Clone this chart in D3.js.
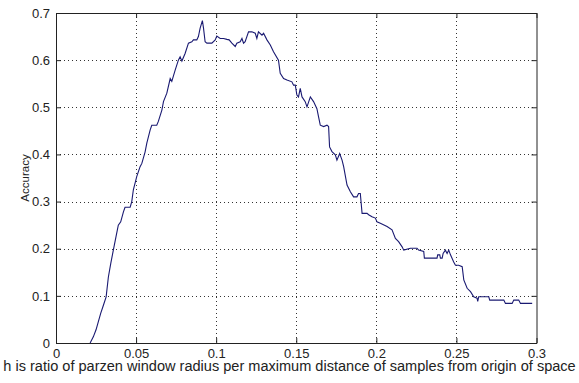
<!DOCTYPE html>
<html>
<head>
<meta charset="utf-8">
<script src="https://cdn.jsdelivr.net/npm/d3@7"></script>
<style>
  html, body { margin: 0; padding: 0; background: #fff; }
  svg { display: block; font-family: "Liberation Sans", Arial, sans-serif; }
</style>
</head>
<body>
<svg id="chart" width="579" height="383"></svg>
<script>
// ---- data ----
const xTicks = [0, 0.05, 0.1, 0.15, 0.2, 0.25, 0.3];
const xTickLabels = ["0", "0.05", "0.1", "0.15", "0.2", "0.25", "0.3"];
const yTicks = [0, 0.1, 0.2, 0.3, 0.4, 0.5, 0.6, 0.7];
const yTickLabels = ["0", "0.1", "0.2", "0.3", "0.4", "0.5", "0.6", "0.7"];
const xLabel = "h is ratio of parzen window radius per maximum distance of samples from origin of space";
const yLabel = "Accuracy";

const hValues = [
  0.0213, 0.0233, 0.0250, 0.0264, 0.0279, 0.0296, 0.0313, 0.0327, 0.0342, 0.0358,
  0.0375, 0.0389, 0.0404, 0.0421, 0.0431, 0.0463, 0.0473, 0.0483, 0.0504, 0.0525,
  0.0536, 0.0556, 0.0567, 0.0588, 0.0598, 0.0629, 0.0639, 0.0661, 0.0671, 0.0692,
  0.0713, 0.0723, 0.0744, 0.0764, 0.0775, 0.0786, 0.0806, 0.0827, 0.0848, 0.0858,
  0.0879, 0.0889, 0.0900, 0.0914, 0.0921, 0.0931, 0.0942, 0.0973, 0.0994, 0.1004,
  0.1025, 0.1046, 0.1067, 0.1081, 0.1098, 0.1119, 0.1129, 0.1150, 0.1161, 0.1171,
  0.1181, 0.1202, 0.1223, 0.1244, 0.1254, 0.1264, 0.1286, 0.1296, 0.1317, 0.1338,
  0.1358, 0.1389, 0.1400, 0.1421, 0.1442, 0.1473, 0.1483, 0.1494, 0.1504, 0.1514,
  0.1525, 0.1536, 0.1556, 0.1567, 0.1588, 0.1608, 0.1629, 0.1639, 0.1650, 0.1671,
  0.1692, 0.1702, 0.1708, 0.1723, 0.1744, 0.1754, 0.1771, 0.1786, 0.1796, 0.1817,
  0.1838, 0.1858, 0.1879, 0.1889, 0.1900, 0.1911, 0.1942, 0.1952, 0.1973, 0.1994,
  0.2004, 0.2025, 0.2067, 0.2098, 0.2119, 0.2139, 0.2161, 0.2171, 0.2213, 0.2254,
  0.2264, 0.2296, 0.2300, 0.2379, 0.2383, 0.2396, 0.2400, 0.2411, 0.2417, 0.2431,
  0.2442, 0.2452, 0.2463, 0.2483, 0.2494, 0.2514, 0.2536, 0.2546, 0.2567, 0.2588,
  0.2608, 0.2629, 0.2633, 0.2639, 0.2702, 0.2708, 0.2796, 0.2806, 0.2848, 0.2858,
  0.2889, 0.2900, 0.2973
];
const accuracy = [
  0.000, 0.013, 0.028, 0.045, 0.063, 0.080, 0.098, 0.140, 0.169, 0.197,
  0.226, 0.250, 0.257, 0.278, 0.288, 0.288, 0.300, 0.325, 0.353, 0.374,
  0.381, 0.405, 0.424, 0.452, 0.462, 0.462, 0.470, 0.494, 0.512, 0.530,
  0.561, 0.555, 0.579, 0.600, 0.607, 0.598, 0.614, 0.636, 0.639, 0.643,
  0.643, 0.650, 0.668, 0.684, 0.668, 0.639, 0.636, 0.636, 0.643, 0.651,
  0.646, 0.646, 0.644, 0.643, 0.636, 0.629, 0.636, 0.639, 0.646, 0.636,
  0.639, 0.660, 0.660, 0.657, 0.646, 0.660, 0.653, 0.657, 0.643, 0.632,
  0.618, 0.600, 0.572, 0.561, 0.558, 0.554, 0.547, 0.547, 0.526, 0.522,
  0.540, 0.522, 0.512, 0.501, 0.522, 0.512, 0.497, 0.480, 0.462, 0.459,
  0.462, 0.459, 0.416, 0.406, 0.399, 0.388, 0.402, 0.388, 0.374, 0.335,
  0.321, 0.310, 0.310, 0.317, 0.317, 0.275, 0.275, 0.272, 0.268, 0.265,
  0.257, 0.254, 0.247, 0.240, 0.222, 0.215, 0.204, 0.197, 0.201, 0.201,
  0.197, 0.194, 0.180, 0.180, 0.187, 0.187, 0.180, 0.180, 0.190, 0.197,
  0.190, 0.197, 0.187, 0.172, 0.165, 0.165, 0.162, 0.134, 0.116, 0.109,
  0.098, 0.095, 0.088, 0.098, 0.098, 0.091, 0.091, 0.084, 0.084, 0.091,
  0.091, 0.084, 0.084
];

// ---- layout ----
const svg = d3.select("#chart");
const mLeft = 56, mRight = 536.5, mTop = 13, mBottom = 343;
const x = d3.scaleLinear().domain([0, 0.3]).range([mLeft, mRight]);
const y = d3.scaleLinear().domain([0, 0.7]).range([mBottom, mTop]);

// grid lines (dotted)
const grid = svg.append("g").attr("stroke", "#333").attr("stroke-width", 1)
  .attr("stroke-dasharray", "1,3");
grid.selectAll("line.gx").data(xTicks.slice(1, -1)).join("line")
  .attr("x1", d => Math.round(x(d)) + 0.5).attr("x2", d => Math.round(x(d)) + 0.5)
  .attr("y1", mTop).attr("y2", mBottom);
grid.selectAll("line.gy").data(yTicks.slice(1, -1)).join("line")
  .attr("x1", mLeft).attr("x2", mRight)
  .attr("y1", d => Math.round(y(d)) + 0.5).attr("y2", d => Math.round(y(d)) + 0.5);

// axes with inward ticks on all sides
const fs = 13;
const axB = d3.axisBottom(x).tickValues(xTicks).tickFormat((d, i) => xTickLabels[i])
  .tickSizeInner(-5).tickSizeOuter(0).tickPadding(6);
const axT = d3.axisTop(x).tickValues(xTicks).tickFormat("").tickSizeInner(-5).tickSizeOuter(0);
const axL = d3.axisLeft(y).tickValues(yTicks).tickFormat((d, i) => yTickLabels[i])
  .tickSizeInner(-5).tickSizeOuter(0).tickPadding(6);
const axR = d3.axisRight(y).tickValues(yTicks).tickFormat("").tickSizeInner(-5).tickSizeOuter(0);

function styleAxis(g) {
  g.attr("font-size", fs).attr("font-family", "Liberation Sans, Arial, sans-serif");
  g.select(".domain").attr("stroke", "#222");
  g.selectAll(".tick line").attr("stroke", "#222");
  g.selectAll(".tick text").attr("fill", "#222");
}
svg.append("g").attr("transform", `translate(0,${mBottom})`).call(axB).call(styleAxis);
svg.append("g").attr("transform", `translate(0,${mTop})`).call(axT).call(styleAxis);
svg.append("g").attr("transform", `translate(${mLeft},0)`).call(axL).call(styleAxis);
svg.append("g").attr("transform", `translate(${mRight},0)`).call(axR).call(styleAxis);

// curve
const pts = hValues.map((h, i) => [h, accuracy[i]]);
svg.append("path").datum(pts)
  .attr("fill", "none").attr("stroke", "#1a1a72").attr("stroke-width", 1.1)
  .attr("d", d3.line().x(d => x(d[0])).y(d => y(d[1])));

// axis labels
const xl = svg.append("text").attr("x", 289.5).attr("y", 371)
  .attr("text-anchor", "middle").attr("fill", "#222").style("font-size", "12px")
  .text(xLabel);
const w = xl.node().getComputedTextLength();
xl.style("font-size", (12 * 573 / w) + "px");

svg.append("text").attr("transform", `translate(29,178) rotate(-90)`)
  .attr("text-anchor", "middle").attr("fill", "#222").style("font-size", "11.5px")
  .text(yLabel);
</script>
</body>
</html>
